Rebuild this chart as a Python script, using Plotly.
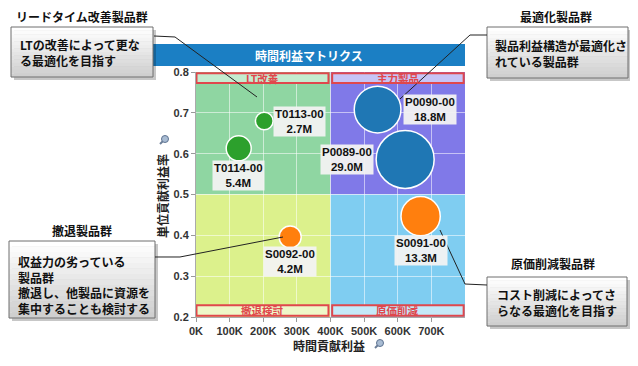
import plotly.graph_objects as go

# ---------------- data ----------------
product_ids = ["T0113-00", "T0114-00", "P0090-00", "P0089-00", "S0092-00", "S0091-00"]
time_profit = [203000, 127000, 540000, 622000, 280000, 668000]      # x: 時間貢献利益
unit_margin = [0.680, 0.613, 0.708, 0.586, 0.396, 0.447]            # y: 単位貢献利益率
revenue_m = [2.7, 5.4, 18.8, 29.0, 4.2, 13.3]                        # bubble size (M)
group = ["T", "T", "P", "P", "S", "S"]

x_tickvals = [0, 100000, 200000, 300000, 400000, 500000, 600000, 700000]
x_ticktext = ["0K", "100K", "200K", "300K", "400K", "500K", "600K", "700K"]
y_tickvals = [0.2, 0.3, 0.4, 0.5, 0.6, 0.7, 0.8]
y_ticktext = ["0.2", "0.3", "0.4", "0.5", "0.6", "0.7", "0.8"]

quadrant_names = ["LT改善", "主力製品", "撤退検討", "原価削減"]
chart_title = "時間利益マトリクス"
x_title = "時間貢献利益"
y_title = "単位貢献利益率"

callout_titles = ["リードタイム改善製品群", "最適化製品群", "撤退製品群", "原価削減製品群"]
callout_texts = [
    "LTの改善によって更な<br>る最適化を目指す",
    "製品利益構造が最適化さ<br>れている製品群",
    "収益力の劣っている<br>製品群<br>撤退し、他製品に資源を<br>集中することも検討する",
    "コスト削減によってさ<br>らなる最適化を目指す",
]

# ---------------- styles / layout helpers ----------------
OFF = 8                      # page body margin
W, H = 622, 350              # figure size (page 8..630, 8..358)
L, R, T, B = 196, 465, 72, 317   # plot area in page pixels
def px(x):
    return (x - L) / (R - L)
def py(y):
    return (B - y) / (B - T)

LAT = "Liberation Sans, Arial, Noto Sans CJK JP"
CJK = "Noto Sans CJK JP, Liberation Sans"
group_color = {"T": "#2CA02C", "P": "#1F77B4", "S": "#FF7F0E"}
label_shift = [(35, 0), (0, -27), (52, 0), (-58, 0), (0, -25), (0, -34)]

fig = go.Figure()

fig.add_trace(go.Scatter(
    x=time_profit, y=unit_margin, mode="markers",
    marker=dict(size=revenue_m, sizemode="area", sizeref=2 / 116.0,
                color=[group_color[g] for g in group],
                line=dict(color="white", width=1.5), opacity=1),
    hoverinfo="skip", showlegend=False,
))

shapes = []
annotations = []

def note(x, y, text, font, **kw):
    d = dict(x=px(x), y=py(y), xref="paper", yref="paper", text=text, showarrow=False,
             xanchor="center", yanchor="middle", font=font)
    d.update(kw)
    annotations.append(d)

# quadrant backgrounds
quads = [
    (0, 400000, 0.5, 0.8, "#8FD6A2"),
    (400000, 800000, 0.5, 0.8, "#8079E8"),
    (0, 400000, 0.2, 0.5, "#DCF18C"),
    (400000, 800000, 0.2, 0.5, "#7FCDF1"),
]
for x0, x1, y0, y1, c in quads:
    shapes.append(dict(type="rect", xref="x", yref="y", x0=x0, x1=x1, y0=y0, y1=y1,
                       fillcolor=c, line=dict(width=0), layer="below"))

# band boxes with red borders
bands = [
    (1500, 394000, 0.773, 0.797, "#C4ECCF", 0),
    (405000, 796000, 0.773, 0.797, "#C6C4F6", 1),
    (1500, 394000, 0.203, 0.229, "#EEF8C8", 2),
    (405000, 796000, 0.203, 0.229, "#C4E9F8", 3),
]
for x0, x1, y0, y1, c, i in bands:
    shapes.append(dict(type="rect", xref="x", yref="y", x0=x0, x1=x1, y0=y0, y1=y1,
                       fillcolor=c, line=dict(color="#E0474C", width=2), layer="above"))
    annotations.append(dict(x=(x0 + x1) / 2, y=(y0 + y1) / 2, xref="x", yref="y",
                            xanchor="center", yanchor="middle",
                            text=quadrant_names[i], showarrow=False,
                            font=dict(family=CJK, size=10.5, color="#E0474C", weight="bold")))

# bubble labels
for i, name in enumerate(product_ids):
    dx, dy = label_shift[i]
    annotations.append(dict(
        x=time_profit[i], y=unit_margin[i], xref="x", yref="y",
        xanchor="center", yanchor="middle",
        text=f"{name}<br>{revenue_m[i]:.1f}M", showarrow=False,
        xshift=dx, yshift=dy, bgcolor="rgba(242,242,242,0.95)", borderpad=1,
        font=dict(family=LAT, size=11.5, color="#111", weight="bold")))

# title bar
shapes.append(dict(type="rect", xref="paper", yref="paper",
                   x0=px(153), x1=px(465), y0=py(66), y1=py(44),
                   fillcolor="#1B7FC4", line=dict(width=0), layer="above"))
note(309, 55, chart_title, dict(family=CJK, size=12, color="white", weight="bold"))

# axis titles
note(329, 345, x_title, dict(family=CJK, size=12, color="#222", weight="bold"))
note(162, 196, y_title, dict(family=CJK, size=12, color="#222", weight="bold"), textangle=-90)

# magnifier icons
def magnifier(cx, cy):
    shapes.append(dict(type="line", xref="paper", yref="paper",
                       x0=px(cx - 1.5), y0=py(cy + 1.5), x1=px(cx - 5), y1=py(cy + 5),
                       line=dict(color="#6C7F99", width=2)))
    shapes.append(dict(type="circle", xref="paper", yref="paper",
                       x0=px(cx - 3.5), x1=px(cx + 3.5), y0=py(cy + 3.5), y1=py(cy - 3.5),
                       fillcolor="#A9BCD3", line=dict(color="#5E7391", width=1)))
magnifier(380, 343)
magnifier(165, 139)

# callout boxes
boxes = [
    (11, 27, 153, 77),
    (487, 27, 628, 78),
    (9, 241, 155, 318),
    (487, 277, 627, 326),
]
text_pos = [(18, 52.5), (493, 53.5), (16, 284.5), (495, 302)]
title_pos = [(82, 17), (556, 17), (82, 230), (553, 263)]
for k, (x0, y0, x1, y1) in enumerate(boxes):
    shapes.append(dict(type="rect", xref="paper", yref="paper",
                       x0=px(x0 + 3), x1=px(x1 + 3), y0=py(y1 + 3), y1=py(y0 + 3),
                       fillcolor="rgba(0,0,0,0.22)", line=dict(width=0), layer="above"))
    n = 14
    for s in range(n):
        t = s / (n - 1)
        v = int(round(255 - t * 48))
        ya = y0 + (y1 - y0) * s / n
        yb = y0 + (y1 - y0) * (s + 1) / n
        shapes.append(dict(type="rect", xref="paper", yref="paper",
                           x0=px(x0), x1=px(x1), y0=py(yb + 0.3), y1=py(ya),
                           fillcolor=f"rgb({v},{v},{v})", line=dict(width=0), layer="above"))
    shapes.append(dict(type="rect", xref="paper", yref="paper",
                       x0=px(x0), x1=px(x1), y0=py(y1), y1=py(y0),
                       fillcolor="rgba(0,0,0,0)", line=dict(color="#6E6E6E", width=1),
                       layer="above"))
    tx, ty = text_pos[k]
    note(tx, ty, callout_texts[k], dict(family=CJK, size=12, color="#111", weight="bold"),
         xanchor="left", align="left")
    cx, cy = title_pos[k]
    note(cx, cy, callout_titles[k], dict(family=CJK, size=12, color="#111", weight="bold"))

# leader lines
leaders = [
    [(154, 36), (175, 37), (257, 97)],
    [(487, 35), (470, 35), (400, 99)],
    [(155, 257), (180, 257), (283, 237)],
    [(487, 285), (465, 284), (440, 230)],
]
for pts in leaders:
    path = "M " + " L ".join(f"{px(a):.5f},{py(b):.5f}" for a, b in pts)
    shapes.append(dict(type="path", xref="paper", yref="paper", path=path,
                       line=dict(color="#222", width=1), layer="above"))

fig.update_layout(
    width=W, height=H, autosize=False,
    margin=dict(l=L - OFF, r=W - (R - OFF), t=T - OFF, b=H - (B - OFF), pad=0),
    paper_bgcolor="white", plot_bgcolor="white",
    shapes=shapes, annotations=annotations, showlegend=False,
    xaxis=dict(range=[0, 800000], tickvals=x_tickvals, ticktext=x_ticktext,
               showgrid=True, gridcolor="rgba(255,255,255,0.55)", gridwidth=1,
               zeroline=False, showline=True, linecolor="#AAAAAA", linewidth=1,
               ticks="outside", ticklen=4, tickcolor="#999999",
               tickfont=dict(family=LAT, size=11, color="#333", weight="bold"),
               fixedrange=True),
    yaxis=dict(range=[0.2, 0.8], tickvals=y_tickvals, ticktext=y_ticktext,
               showgrid=True, gridcolor="rgba(255,255,255,0.55)", gridwidth=1,
               zeroline=False, showline=True, linecolor="#AAAAAA", linewidth=1,
               ticks="outside", ticklen=4, tickcolor="#999999",
               tickfont=dict(family=LAT, size=11, color="#333", weight="bold"),
               fixedrange=True),
)

fig.write_html("out.html", config={"displayModeBar": False})
